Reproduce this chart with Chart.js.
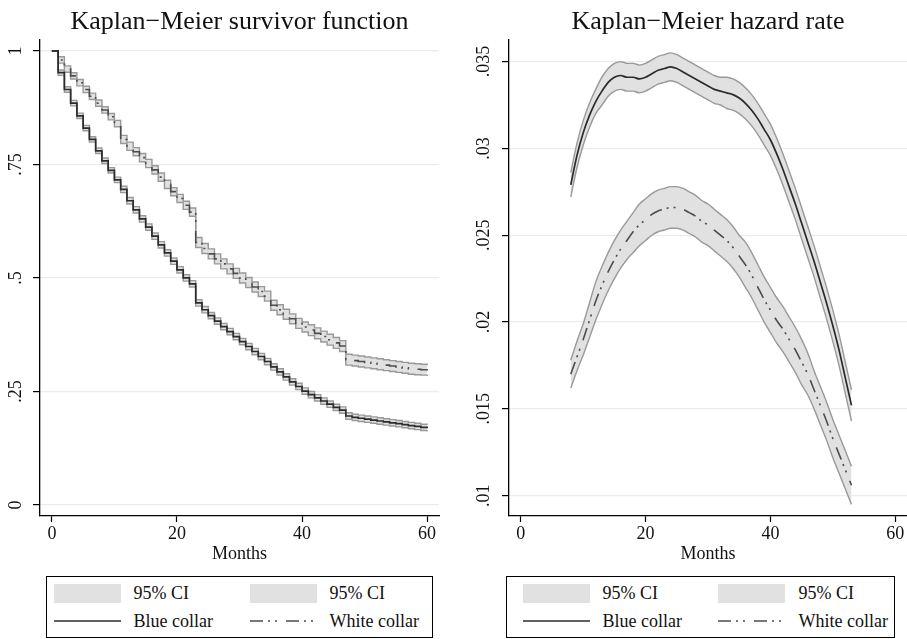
<!DOCTYPE html>
<html><head><meta charset="utf-8">
<script src="https://cdn.jsdelivr.net/npm/chart.js@4.4.1/dist/chart.umd.min.js"></script>
<style>
html,body{margin:0;padding:0;background:#fff;width:907px;height:639px;overflow:hidden;font-family:"Liberation Serif","Times New Roman",serif;}
#c1{position:absolute;left:0;top:0;}
#c2{position:absolute;left:454px;top:0;}
.legend{position:absolute;border:1.5px solid #000;box-sizing:border-box;height:62px;top:576px;background:#fff;}
.txt{position:absolute;font-size:18px;line-height:20px;color:#111;white-space:nowrap;}
.sw{position:absolute;background:#e1e1e1;width:67px;height:19px;top:7px;}
.ln{position:absolute;top:42px;width:67px;height:4px;}
</style></head><body>
<canvas id="c1" width="453" height="570"></canvas>
<canvas id="c2" width="453" height="570"></canvas>
<script>
// ---------- DATA ----------
const months = [0,1,2,3,4,5,6,7,8,9,10,11,12,13,14,15,16,17,18,19,20,21,22,23,24,25,26,27,28,29,30,31,32,33,34,35,36,37,38,39,40,41,42,43,44,45,46,47,48,49,50,51,52,53,54,55,56,57,58,59,60];
const survBlue = [1.000,0.952,0.915,0.885,0.857,0.830,0.805,0.780,0.758,0.737,0.716,0.695,0.670,0.650,0.630,0.612,0.592,0.573,0.555,0.537,0.518,0.500,0.487,0.445,0.430,0.417,0.405,0.393,0.382,0.371,0.360,0.349,0.338,0.327,0.316,0.304,0.293,0.282,0.271,0.261,0.251,0.243,0.236,0.229,0.222,0.215,0.209,0.196,0.193,0.191,0.189,0.187,0.185,0.183,0.181,0.179,0.177,0.175,0.173,0.171,0.169];
const survBlueLo = [1.000,0.946,0.909,0.879,0.851,0.824,0.799,0.774,0.752,0.731,0.710,0.688,0.663,0.643,0.623,0.605,0.585,0.566,0.548,0.530,0.511,0.493,0.480,0.438,0.423,0.410,0.398,0.386,0.375,0.364,0.353,0.342,0.331,0.320,0.309,0.297,0.286,0.275,0.264,0.254,0.244,0.236,0.229,0.222,0.215,0.208,0.202,0.189,0.186,0.184,0.182,0.180,0.178,0.176,0.174,0.172,0.170,0.168,0.166,0.164,0.162];
const survBlueUp = [1.000,0.958,0.921,0.891,0.863,0.836,0.811,0.786,0.764,0.743,0.722,0.702,0.677,0.657,0.637,0.619,0.599,0.580,0.562,0.544,0.525,0.507,0.494,0.452,0.437,0.424,0.412,0.400,0.389,0.378,0.367,0.356,0.345,0.334,0.323,0.311,0.300,0.289,0.278,0.268,0.258,0.250,0.243,0.236,0.229,0.222,0.216,0.203,0.200,0.198,0.196,0.194,0.192,0.190,0.188,0.186,0.184,0.182,0.180,0.178,0.176];
const survWhite = [1.000,0.980,0.960,0.945,0.930,0.915,0.900,0.885,0.870,0.855,0.840,0.805,0.790,0.778,0.765,0.752,0.738,0.722,0.706,0.690,0.675,0.660,0.645,0.578,0.565,0.553,0.542,0.531,0.520,0.510,0.500,0.490,0.480,0.470,0.460,0.440,0.430,0.420,0.410,0.400,0.392,0.385,0.378,0.371,0.364,0.357,0.350,0.320,0.318,0.316,0.314,0.312,0.310,0.308,0.306,0.304,0.302,0.300,0.299,0.298,0.296];
const survWhiteLo = [1.000,0.973,0.953,0.938,0.923,0.908,0.893,0.878,0.863,0.848,0.833,0.796,0.781,0.769,0.756,0.743,0.729,0.713,0.697,0.681,0.666,0.651,0.636,0.567,0.554,0.542,0.531,0.520,0.509,0.499,0.489,0.479,0.469,0.459,0.449,0.429,0.419,0.409,0.399,0.389,0.381,0.373,0.366,0.359,0.352,0.345,0.338,0.308,0.306,0.304,0.302,0.300,0.298,0.296,0.294,0.292,0.290,0.288,0.287,0.286,0.284];
const survWhiteUp = [1.000,0.987,0.967,0.952,0.937,0.922,0.907,0.892,0.877,0.862,0.847,0.814,0.799,0.787,0.774,0.761,0.747,0.731,0.715,0.699,0.684,0.669,0.654,0.589,0.576,0.564,0.553,0.542,0.531,0.521,0.511,0.501,0.491,0.481,0.471,0.451,0.441,0.431,0.421,0.411,0.403,0.397,0.390,0.383,0.376,0.369,0.362,0.332,0.330,0.328,0.326,0.324,0.322,0.320,0.318,0.316,0.314,0.312,0.311,0.310,0.308];

const hazMonths = [8,9,10,11,12,13,14,15,16,17,18,19,20,21,22,23,24,25,26,27,28,29,30,31,32,33,34,35,36,37,38,39,40,41,42,43,44,45,46,47,48,49,50,51,52,53];
const hazBlue = [0.0279,0.0296,0.0309,0.0319,0.0327,0.0333,0.0338,0.0341,0.0342,0.0341,0.0341,0.0340,0.0341,0.0343,0.0345,0.0346,0.0347,0.0346,0.0344,0.0342,0.0340,0.0338,0.0336,0.0334,0.0333,0.0332,0.0331,0.0329,0.0326,0.0322,0.0317,0.0311,0.0305,0.0297,0.0288,0.0278,0.0268,0.0257,0.0246,0.0235,0.0223,0.0211,0.0198,0.0184,0.0168,0.0152];
const hazBlueLo = [0.0272,0.0289,0.0302,0.0312,0.0320,0.0325,0.0330,0.0333,0.0334,0.0333,0.0333,0.0332,0.0333,0.0335,0.0337,0.0338,0.0339,0.0338,0.0336,0.0334,0.0332,0.0330,0.0328,0.0326,0.0325,0.0323,0.0322,0.0320,0.0317,0.0313,0.0308,0.0302,0.0296,0.0288,0.0279,0.0269,0.0259,0.0248,0.0237,0.0226,0.0214,0.0202,0.0189,0.0175,0.0159,0.0143];
const hazBlueUp = [0.0286,0.0303,0.0316,0.0326,0.0334,0.0341,0.0346,0.0349,0.0350,0.0349,0.0349,0.0348,0.0349,0.0351,0.0353,0.0354,0.0355,0.0354,0.0352,0.0350,0.0348,0.0346,0.0344,0.0342,0.0341,0.0341,0.0340,0.0338,0.0335,0.0331,0.0326,0.0320,0.0314,0.0306,0.0297,0.0287,0.0277,0.0266,0.0255,0.0244,0.0232,0.0220,0.0207,0.0193,0.0177,0.0161];
const hazWhite = [0.0170,0.0180,0.0190,0.0201,0.0212,0.0221,0.0229,0.0236,0.0242,0.0247,0.0252,0.0256,0.0259,0.0262,0.0264,0.0265,0.0266,0.0266,0.0265,0.0263,0.0261,0.0258,0.0256,0.0253,0.0250,0.0247,0.0243,0.0238,0.0233,0.0227,0.0220,0.0213,0.0207,0.0201,0.0196,0.0190,0.0184,0.0177,0.0170,0.0161,0.0152,0.0143,0.0133,0.0124,0.0115,0.0106];
const hazWhiteLo = [0.0162,0.0172,0.0181,0.0191,0.0201,0.0210,0.0218,0.0225,0.0231,0.0236,0.0240,0.0244,0.0247,0.0250,0.0252,0.0253,0.0254,0.0254,0.0253,0.0251,0.0249,0.0246,0.0244,0.0241,0.0238,0.0235,0.0231,0.0226,0.0220,0.0214,0.0207,0.0200,0.0194,0.0188,0.0183,0.0177,0.0171,0.0164,0.0158,0.0150,0.0141,0.0132,0.0122,0.0113,0.0104,0.0095];
const hazWhiteUp = [0.0178,0.0189,0.0199,0.0211,0.0223,0.0232,0.0240,0.0247,0.0253,0.0258,0.0263,0.0268,0.0271,0.0274,0.0276,0.0277,0.0278,0.0278,0.0277,0.0275,0.0273,0.0270,0.0268,0.0265,0.0262,0.0259,0.0255,0.0250,0.0246,0.0240,0.0233,0.0226,0.0220,0.0214,0.0209,0.0203,0.0197,0.0190,0.0182,0.0172,0.0163,0.0154,0.0144,0.0135,0.0126,0.0117];

const xTicks = [0,20,40,60];
const xTickLabels = ['0','20','40','60'];
const survTicks = [0,0.25,0.5,0.75,1];
const survTickLabels = ['0','.25','.5','.75','1'];
const hazTicks = [0.01,0.015,0.02,0.025,0.03,0.035];
const hazTickLabels = ['.01','.015','.02','.025','.03','.035'];

const titles = ['Kaplan\u2212Meier survivor function','Kaplan\u2212Meier hazard rate'];
const xTitle = 'Months';
const seriesNames = ['Blue collar','White collar'];
const ciName = '95% CI';

// ---------- STYLE ----------
const F = "'Liberation Serif','Times New Roman',serif";
const bandFill = '#e1e1e1';
const bandBorder = '#999999';
const blueColor = '#2b2b2b';
const whiteColor = '#4c4c4c';
const whiteDash = [13,5,2,5,2,9];

const toXY = (xs, ys) => xs.map((x, i) => ({x: x, y: ys[i]}));

function bandPair(xs, up, lo, stepped) {
  return [
    {label: ciName, data: toXY(xs, up), fill: '+1', backgroundColor: bandFill, borderColor: bandBorder, borderWidth: 1.4, stepped: stepped, tension: stepped ? 0 : 0.4, cubicInterpolationMode: 'monotone', pointRadius: 0, order: 1},
    {label: ciName, data: toXY(xs, lo), fill: false, borderColor: bandBorder, borderWidth: 1.4, stepped: stepped, tension: stepped ? 0 : 0.4, cubicInterpolationMode: 'monotone', pointRadius: 0, order: 1}
  ];
}

function makeChart(id, cfg) {
  const datasets = [
    {label: seriesNames[0], data: toXY(cfg.xs, cfg.blue), borderColor: blueColor, borderWidth: 1.7, stepped: cfg.stepped, tension: cfg.stepped ? 0 : 0.4, cubicInterpolationMode: 'monotone', pointRadius: 0, fill: false, order: 0},
    {label: seriesNames[1], data: toXY(cfg.xs, cfg.white), borderColor: whiteColor, borderWidth: 1.6, borderDash: whiteDash, stepped: cfg.stepped, tension: cfg.stepped ? 0 : 0.4, cubicInterpolationMode: 'monotone', pointRadius: 0, fill: false, order: 0},
    ...bandPair(cfg.xs, cfg.blueUp, cfg.blueLo, cfg.stepped),
    ...bandPair(cfg.xs, cfg.whiteUp, cfg.whiteLo, cfg.stepped)
  ];
  return new Chart(document.getElementById(id), {
    type: 'line',
    data: {datasets: datasets},
    options: {
      responsive: false,
      animation: false,
      layout: {padding: {left: 0, right: cfg.padRight, top: 0, bottom: 0}},
      plugins: {
        legend: {display: false},
        tooltip: {enabled: false},
        filler: {drawTime: 'beforeDatasetsDraw'},
        title: {display: true, text: cfg.title, fullSize: false, color: '#111',
          font: {family: F, size: 26, weight: 'normal', lineHeight: 1.15}, padding: {top: 7, bottom: 3}}
      },
      scales: {
        x: {
          type: 'linear', min: -1.9, max: 61.9, bounds: 'data',
          afterBuildTicks: s => { s.ticks = xTicks.map(v => ({value: v})); },
          afterFit: s => { s.height = 54; },
          ticks: {callback: (v, i) => xTickLabels[i], autoSkip: false, maxRotation: 0, padding: 1, color: '#111', font: {family: F, size: 18}},
          grid: {drawOnChartArea: false, drawTicks: true, tickLength: 6, tickColor: '#000', tickWidth: 1.2},
          border: {display: true, color: '#000', width: 1.3},
          title: {display: true, text: xTitle, color: '#111', font: {family: F, size: 18}, padding: {top: 0, bottom: 5}}
        },
        y: {
          type: 'linear', min: cfg.yMin, max: cfg.yMax, bounds: 'data',
          afterBuildTicks: s => { s.ticks = cfg.yTicks.map(v => ({value: v})); },
          afterFit: s => { s.width = cfg.yWidth; },
          ticks: {callback: (v, i) => cfg.yLabels[i], autoSkip: false, minRotation: 90, maxRotation: 90, crossAlign: 'center', padding: cfg.yPad, color: '#111', font: {family: F, size: 18}},
          grid: {color: '#ebebeb', lineWidth: 1.2, drawTicks: true, tickLength: 7, tickColor: '#000', tickWidth: 1.2},
          border: {display: true, color: '#000', width: 1.3}
        }
      }
    }
  });
}

makeChart('c1', {title: titles[0], xs: months, blue: survBlue, blueLo: survBlueLo, blueUp: survBlueUp,
  white: survWhite, whiteLo: survWhiteLo, whiteUp: survWhiteUp, stepped: true,
  yMin: -0.0242, yMax: 1.0242, yTicks: survTicks, yLabels: survTickLabels, yWidth: 40, yPad: 5, padRight: 14});
makeChart('c2', {title: titles[1], xs: hazMonths, blue: hazBlue, blueLo: hazBlueLo, blueUp: hazBlueUp,
  white: hazWhite, whiteLo: hazWhiteLo, whiteUp: hazWhiteUp, stepped: false,
  yMin: 0.00883, yMax: 0.03625, yTicks: hazTicks, yLabels: hazTickLabels, yWidth: 55, yPad: 2, padRight: 0});

// ---------- LEGENDS (HTML, from the dataset names) ----------
function buildLegend(left, width, off) {
  const box = document.createElement('div');
  box.className = 'legend';
  box.style.left = left + 'px';
  box.style.width = width + 'px';
  const items = [
    {kind: 'sw', x: off[0], tx: off[1], row: 0, text: ciName},
    {kind: 'sw', x: off[2], tx: off[3], row: 0, text: ciName},
    {kind: 'ln', x: off[0], tx: off[1], row: 1, text: seriesNames[0], color: blueColor, dash: ''},
    {kind: 'ln', x: off[2], tx: off[3], row: 1, text: seriesNames[1], color: whiteColor, dash: whiteDash.join(',')}
  ];
  items.forEach(it => {
    if (it.kind === 'sw') {
      const s = document.createElement('div'); s.className = 'sw'; s.style.left = (it.x - 1.5) + 'px'; box.appendChild(s);
    } else {
      const ns = 'http://www.w3.org/2000/svg';
      const svg = document.createElementNS(ns, 'svg');
      svg.setAttribute('class', 'ln'); svg.setAttribute('width', '67'); svg.setAttribute('height', '4');
      svg.style.left = (it.x - 1.5) + 'px';
      const l = document.createElementNS(ns, 'line');
      l.setAttribute('x1', '0'); l.setAttribute('x2', '67'); l.setAttribute('y1', '2'); l.setAttribute('y2', '2');
      l.setAttribute('stroke', it.color); l.setAttribute('stroke-width', '1.7');
      if (it.dash) l.setAttribute('stroke-dasharray', it.dash);
      svg.appendChild(l); box.appendChild(svg);
    }
    const t = document.createElement('div'); t.className = 'txt'; t.textContent = it.text;
    t.style.left = (it.tx - 1.5) + 'px'; t.style.top = (it.row === 0 ? 5.5 : 33.5) + 'px';
    box.appendChild(t);
  });
  document.body.appendChild(box);
}
buildLegend(46, 387, [8, 88, 204, 284]);
buildLegend(506, 389, [17, 97, 212, 293]);
</script>
</body></html>
